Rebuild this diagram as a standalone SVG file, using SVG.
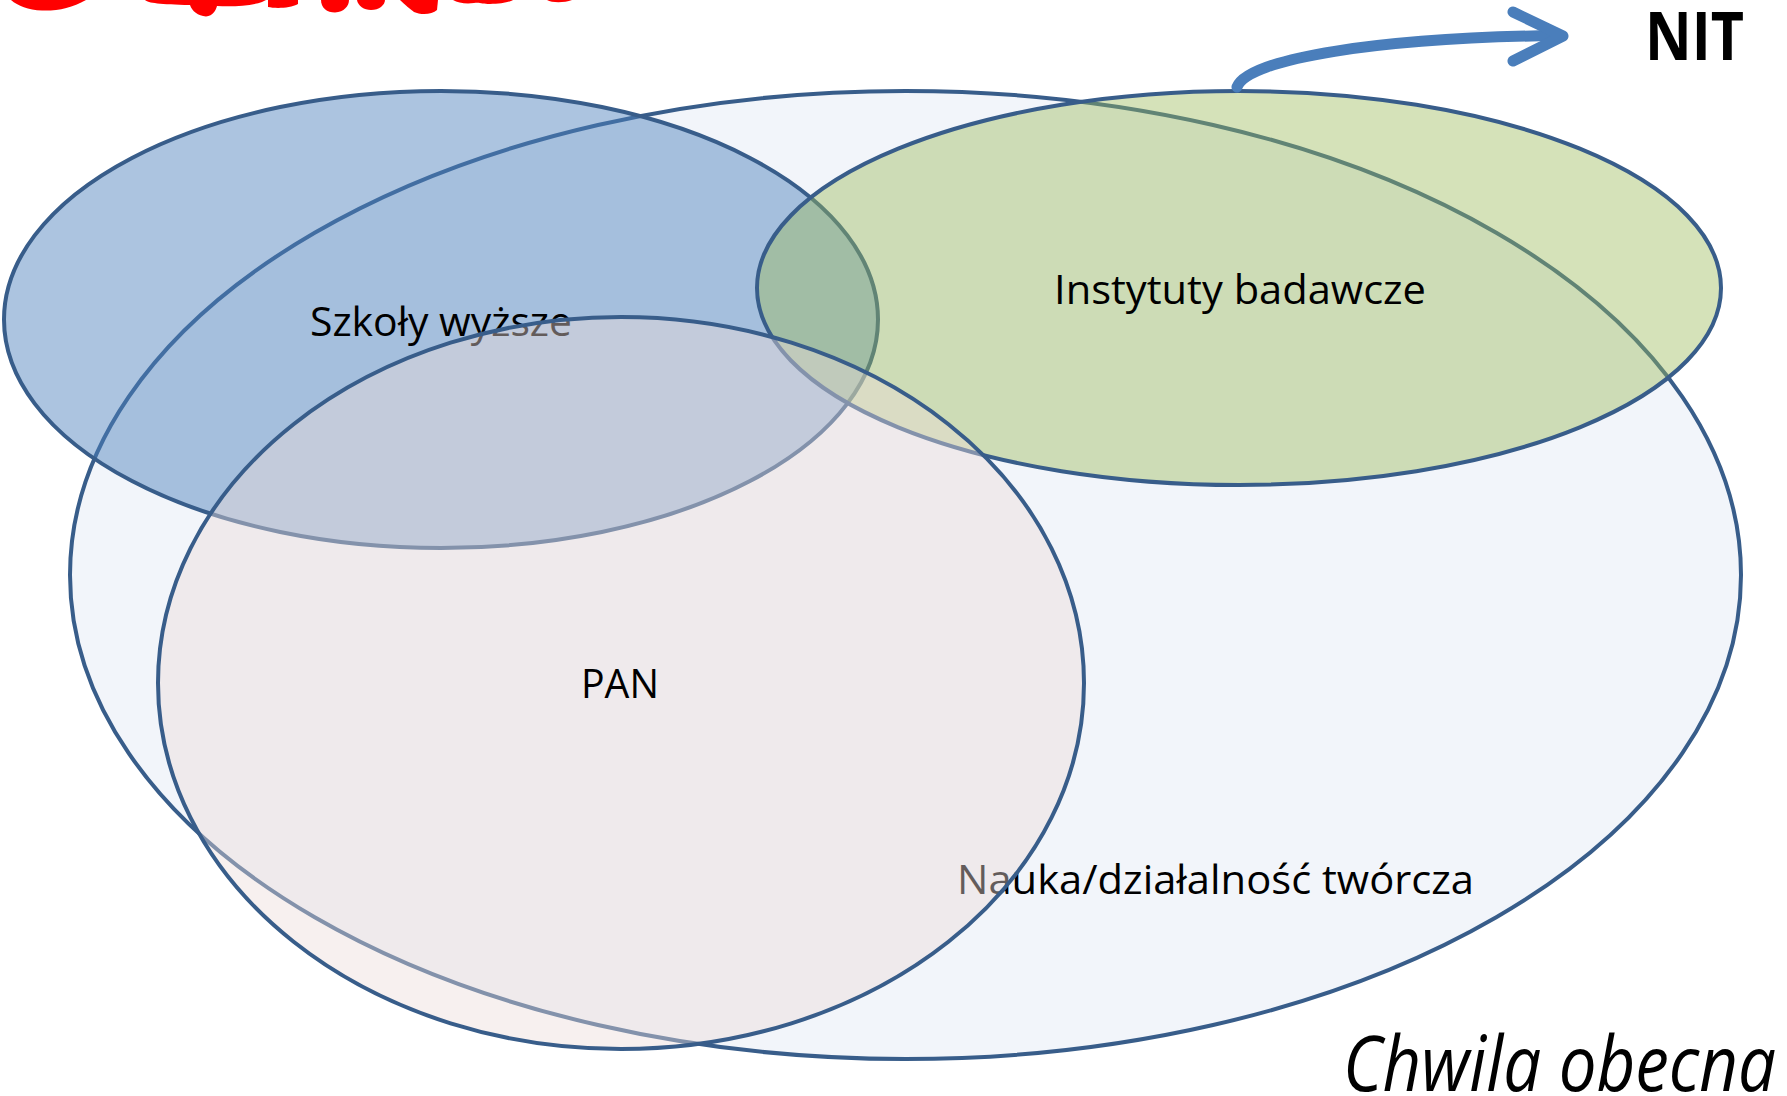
<svg xmlns="http://www.w3.org/2000/svg" width="1787" height="1096" viewBox="0 0 1787 1096">
<style>
.set{stroke:#385D8A;stroke-width:4}
.lbl{font-family:"Open Sans","Liberation Sans",sans-serif;font-size:41px;fill:#000}
.arrow{fill:none;stroke:#4A7EBB;stroke-width:11;stroke-linecap:round;stroke-linejoin:round}
</style>
<rect width="1787" height="1096" fill="#FFFFFF"/>
<g id="scribble" fill="#FF0000">
<path d="M11,0 C18,6 28,10 42,10.5 C58,11 72,8 86,0 Z"/>
<path d="M145,0 C148,3 160,4.5 190,5 C192,11 198,16 206,16.5 C213,16 216,10 217,6 C232,7 250,6 262,2 L266,0 Z"/>
<path d="M268,0 L268,7 C275,8.5 290,8.5 298,4 L298,0 Z"/>
<path d="M321,0 C321,8 327,12.5 335,12.5 C344,12 349,6 349,0 Z"/>
<path d="M357,0 C358,6 364,10 371,10 C379,10 385,5 385,0 Z"/>
<path d="M400,0 C405,5 410,9 414,12 C420,15 432,15 437,10 L438,0 Z"/>
<path d="M453,0 C458,3 466,4 474,3 C480,2 482,4 490,4 C500,4 510,2 513,0 Z"/>
<path d="M547,0 C552,3 564,3 572,0 Z"/>
</g>
<g id="nauka">
<ellipse class="set" cx="905.5" cy="575" rx="835.5" ry="484" fill="#F2F5FA"/>
<text class="lbl" x="957" y="893.5" textLength="517" lengthAdjust="spacingAndGlyphs">Nauka/działalność twórcza</text>
</g>
<g id="szkoly">
<ellipse class="set" cx="441" cy="319.5" rx="437" ry="228.5" fill="#4F81BD" fill-opacity="0.47"/>
<text class="lbl" x="310" y="336" textLength="262" lengthAdjust="spacingAndGlyphs">Szkoły wyższe</text>
</g>
<g id="instytuty">
<ellipse class="set" cx="1239" cy="288" rx="482" ry="197" fill="#9BBB59" fill-opacity="0.42"/>
<text class="lbl" x="1054" y="303.5" textLength="372" lengthAdjust="spacingAndGlyphs">Instytuty badawcze</text>
</g>
<g id="pan">
<ellipse class="set" cx="621" cy="683" rx="463" ry="366" fill="#EDDBD9" fill-opacity="0.42"/>
<text class="lbl" x="581" y="698" textLength="78" lengthAdjust="spacingAndGlyphs">PAN</text>
</g>
<g id="connectors">
<path class="arrow" d="M1237,87 C1248,58 1380,38 1556,35.5"/>
<path class="arrow" d="M1513,12 L1563,36 L1513,61"/>
</g>
<g id="nit">
<text x="1645" y="60" textLength="99" lengthAdjust="spacingAndGlyphs" style="font-family:'Open Sans','Liberation Sans',sans-serif;font-weight:bold;font-size:66px;fill:#000">NIT</text>
</g>
<g id="caption">
<text x="1343" y="1091" textLength="433" lengthAdjust="spacingAndGlyphs" style="font-family:'Open Sans','Liberation Sans',sans-serif;font-style:italic;font-size:77px;fill:#000">Chwila obecna</text>
</g>
</svg>
